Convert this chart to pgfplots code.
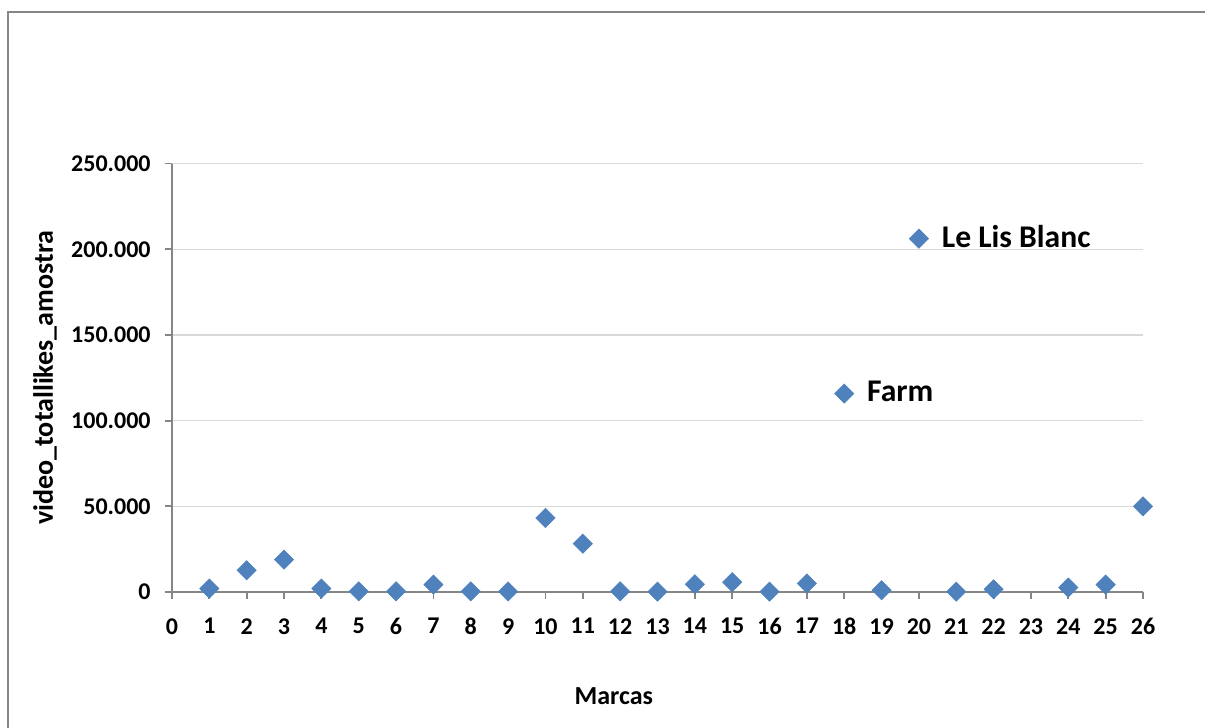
\documentclass[border=0pt]{standalone}
\usepackage{pgfplots}
\pgfplotsset{compat=1.18}
\usepackage{fontspec}
\setmainfont{Carlito}

\definecolor{markblue}{RGB}{79,129,189}
\definecolor{axisgray}{RGB}{134,134,134}
\definecolor{gridgray}{RGB}{217,217,217}

\begin{document}
\begin{tikzpicture}
  % page area and chart frame
  \useasboundingbox (0,0) rectangle (602.5pt,364pt);
  \draw[axisgray, line width=1pt] (4pt,-2pt) -- (4pt,358pt) -- (605pt,358pt);

  \begin{axis}[
    at={(86pt,68pt)}, anchor=south west,
    scale only axis,
    width=485.5pt, height=214.2pt,
    xmin=0, xmax=26, ymin=0, ymax=250000,
    xtick={0,...,26},
    ytick={0,50000,100000,150000,200000,250000},
    scaled y ticks=false,
    yticklabel={\pgfmathprintnumber[fixed,precision=0,1000 sep={.},assume math mode=true]{\tick}},
    xticklabel={\pgfmathprintnumber[fixed,precision=0,assume math mode=true]{\tick}},
    axis x line*=bottom, axis y line*=left,
    axis line style={axisgray, line width=0.9pt},
    tick style={axisgray, line width=0.9pt},
    major tick length=3.5pt,
    tick align=outside,
    ymajorgrids,
    grid style={gridgray, line width=0.75pt},
    tick label style={font=\fontsize{12}{14}\selectfont\bfseries, inner sep=0pt},
    yticklabel style={anchor=east, xshift=-7pt},
    xticklabel style={anchor=north, yshift=-9.5pt},
    xlabel={Marcas},
    ylabel={video\_totallikes\_amostra},
    xlabel style={at={(axis description cs:0.455,0)}, anchor=center, yshift=-52pt,
                  font=\fontsize{13}{15}\selectfont\bfseries},
    ylabel style={at={(axis description cs:0,0.5)}, anchor=center, rotate=0, yshift=63.5pt,
                  font=\fontsize{14}{16}\selectfont\bfseries},
    clip=false,
  ]
    % brands without a data label
    \addplot[markblue, only marks, mark=square*,
             mark options={rotate=45, fill=markblue, draw=markblue, line width=0.3pt},
             mark size=3.4pt]
      coordinates {
        (1,2000) (2,12700) (3,18900) (4,2000) (5,400) (6,400) (7,4300)
        (8,400) (9,300) (10,43200) (11,28200) (12,400) (13,200) (14,4500)
        (15,5700) (16,200) (17,5000) (19,1000) (21,200) (22,1600)
        (24,2600) (25,4300) (26,50000)
      };
    % brands with a data label
    \addplot[markblue, only marks, mark=square*,
             mark options={rotate=45, fill=markblue, draw=markblue, line width=0.3pt},
             mark size=3.4pt,
             point meta=explicit symbolic,
             nodes near coords,
             nodes near coords style={anchor=west, xshift=8pt, yshift=1pt,
                  font=\fontsize{15.8}{18}\selectfont\bfseries, text=black}]
      coordinates {
        (18,115800) [Farm]
        (20,206200) [Le Lis Blanc]
      };
  \end{axis}
\end{tikzpicture}
\end{document}
